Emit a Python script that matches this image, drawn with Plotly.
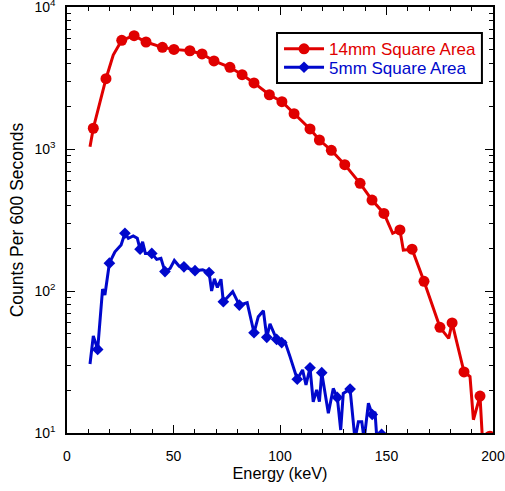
import plotly.graph_objects as go

# --- 14mm square area spectrum (energy keV, counts per 600 s) ---
e14 = [10.8, 12.35, 18.3, 21.7, 25.7, 31.5, 37.1, 44.8, 50.2, 57.7, 63.4, 69.0,
       76.5, 82.2, 87.8, 95.0, 100.9, 106.6, 114.1, 118.5, 124.1, 130.4, 137.6,
       143.2, 148.8, 152.9, 156.3, 157.9, 162.0, 167.6, 175.1, 179.2, 180.8,
       186.4, 189.2, 190.8, 193.9, 196.0, 198.5]
c14 = [1037, 1400, 3127, 4590, 5825, 6280, 5670, 5200, 5030, 4920, 4670, 4170,
       3760, 3335, 2920, 2410, 2155, 1773, 1384, 1157, 979, 776, 573,
       437, 352, 255, 269, 194, 197, 117, 55.5, 46.4, 59.6,
       26.9, 25.0, 12.4, 18.2, 5.0, 9.5]
m14 = [0, 1, 1, 0, 1, 1, 1, 1, 1, 1, 1, 1,
       1, 1, 1, 1, 1, 1, 1, 1, 1, 1, 1,
       1, 1, 0, 1, 0, 1, 1, 1, 0, 1,
       1, 0, 0, 1, 0, 1]

# --- 5mm square area spectrum ---
e5 = [10.8, 12.35, 14.4, 16.7, 17.8, 19.9, 22.5, 25.4, 27.2, 28.8, 31.1, 33.0,
      34.3, 35.5, 36.8, 39.8, 42.1, 44.1, 46.0, 48.4, 50.4, 52.6, 54.9, 57.7,
      60.1, 63.7, 66.7, 67.9, 69.2, 70.6, 72.3, 73.4, 75.7, 77.8, 80.9, 84.6,
      87.8, 89.8, 92.2, 93.8, 95.3, 98.4, 100.8, 102.3, 104.7, 108.1, 110.6,
      112.2, 114.1, 115.6, 117.2, 118.5, 119.6, 122.7, 125.0, 126.9, 128.5,
      129.7, 132.9, 135.2, 136.8, 138.4, 139.5, 141.5, 143.3, 144.6, 145.5,
      147.7]
c5 = [30.6, 48.2, 38.8, 103, 93.7, 157, 189, 211, 255, 235, 244, 235,
      197, 222, 184, 184, 167, 170, 137, 144, 164, 150, 148, 144,
      139, 141, 135, 100, 122, 106, 121, 84, 91, 98.9, 79.6, 82.7,
      50.8, 65.9, 72.7, 47.2, 58.6, 45.7, 43.3, 44, 34.5, 23.9, 27.8,
      21.8, 28.8, 16.6, 20.1, 16.6, 26.6, 13.8, 20.6, 17.8, 10.5,
      19, 20.4, 9, 12, 12, 9, 16.2, 13.5, 14.1, 9,
      9.8]
m5 = [0, 0, 1, 0, 0, 1, 0, 0, 1, 0, 0, 0,
      1, 0, 0, 1, 0, 0, 1, 0, 0, 0, 1, 0,
      1, 0, 1, 0, 0, 0, 0, 1, 0, 0, 1, 0,
      1, 0, 0, 1, 0, 1, 1, 0, 0, 1, 0,
      0, 1, 0, 0, 0, 1, 0, 0, 1, 0,
      0, 1, 0, 0, 0, 0, 0, 1, 0, 0,
      1]

RED = "#E00000"
BLUE = "#0008CC"
FONT = "Liberation Sans, Arial, sans-serif"

fig = go.Figure()


def add_series(x, y, marks, color, symbol, msize, name, legend):
    fig.add_trace(go.Scatter(x=x, y=y, mode="lines", line=dict(color=color, width=3),
                             showlegend=False, hoverinfo="skip"))
    mx = [v for v, k in zip(x, marks) if k]
    my = [v for v, k in zip(y, marks) if k]
    fig.add_trace(go.Scatter(x=mx, y=my, mode="markers",
                             marker=dict(color=color, symbol=symbol, size=msize),
                             showlegend=False))
    # legend entry: line with marker
    fig.add_trace(go.Scatter(x=[None], y=[None], mode="lines+markers", name=name,
                             legend=legend,
                             line=dict(color=color, width=3),
                             marker=dict(color=color, symbol=symbol, size=msize)))


add_series(e14, c14, m14, RED, "circle", 11, "14mm Square Area", "legend")
add_series(e5, c5, m5, BLUE, "diamond", 9, "5mm Square Area", "legend2")

ytick_vals = [10, 100, 1000, 10000]
ytick_text = ["10<sup>1</sup>", "10<sup>2</sup>", "10<sup>3</sup>", "10<sup>4</sup>"]
xtick_vals = [0, 50, 100, 150, 200]

legend_common = dict(xanchor="left", yanchor="middle", borderwidth=0,
                     bgcolor="rgba(0,0,0,0)", itemwidth=40)

fig.update_layout(
    width=505, height=491,
    margin=dict(l=67, r=12, t=7, b=58),
    paper_bgcolor="white", plot_bgcolor="white",
    font=dict(family=FONT, size=14, color="black"),
    legend=dict(x=0.4977, y=0.9007, font=dict(size=17, color=RED), **legend_common),
    legend2=dict(x=0.4977, y=0.8575, font=dict(size=17, color=BLUE), **legend_common),
    shapes=[dict(type="rect", xref="paper", yref="paper",
                 x0=0.493, x1=0.974, y0=0.8216, y1=0.939,
                 line=dict(color="black", width=2), fillcolor="rgba(0,0,0,0)",
                 layer="above")],
    xaxis=dict(range=[0, 200], tickvals=xtick_vals, automargin=False,
               ticklabeloverflow="allow",
               ticks="inside", ticklen=8, tickwidth=1, tickcolor="black",
               minor=dict(dtick=10, ticks="inside", ticklen=4, tickcolor="black"),
               showline=True, linecolor="black", linewidth=1.5, mirror="allticks",
               showgrid=False, zeroline=False, ticklabelstandoff=9,
               title=dict(text="Energy (keV)", font=dict(size=16.3), standoff=4)),
    yaxis=dict(type="log", range=[1, 4], tickvals=ytick_vals, ticktext=ytick_text,
               automargin=False, ticklabeloverflow="allow",
               ticks="inside", ticklen=8, tickwidth=1, tickcolor="black",
               minor=dict(ticks="inside", ticklen=4, tickcolor="black",
                          tickvals=[m * 10 ** p for p in range(1, 4) for m in range(2, 10)]),
               showline=True, linecolor="black", linewidth=1.5, mirror="allticks",
               showgrid=False, zeroline=False, ticklabelstandoff=7,
               title=dict(text="Counts Per 600 Seconds", font=dict(size=17.5), standoff=6)),
)

fig.write_html("out.html")
